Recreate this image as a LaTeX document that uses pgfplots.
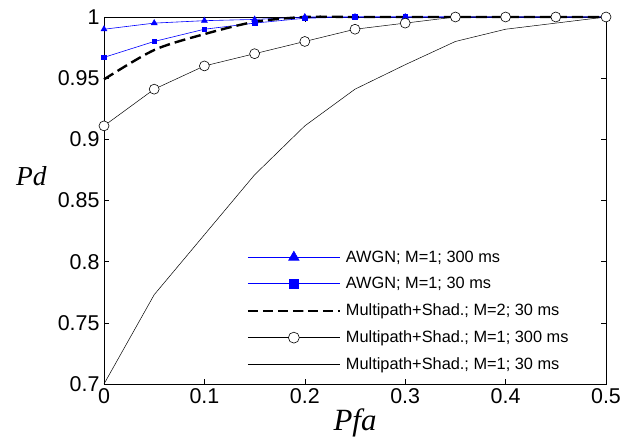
\documentclass[border=0pt]{standalone}
\usepackage{pgfplots}
\pgfplotsset{compat=1.18}
\usepackage{fontspec}
\setmainfont{Liberation Sans}
\newfontfamily\timesit{Liberation Serif}
\begin{document}
\begin{tikzpicture}
\begin{axis}[
  scale only axis, width=502bp, height=367bp,
  xmin=0, xmax=0.5, ymin=0.7, ymax=1,
  xtick={0,0.1,0.2,0.3,0.4,0.5},
  ytick={0.7,0.75,0.8,0.85,0.9,0.95,1},
  tick align=inside,
  major tick length=5bp,
  tick style={black, line width=0.6pt},
  axis line style={line width=0.8pt},
  /pgf/number format/assume math mode=true,
  ticklabel style={font=\fontsize{21.5}{24}\selectfont},
  xticklabel style={yshift=-1bp},
  yticklabel style={xshift=-1bp},
  xlabel={\timesit\itshape\fontsize{31}{34}\selectfont Pfa},
  ylabel={\timesit\itshape\fontsize{27.5}{30}\selectfont Pd},
  xlabel style={at={(rel axis cs:0.5,0)}, anchor=base, yshift=-46bp},
  ylabel style={at={(rel axis cs:0,0.542)}, rotate=-90, anchor=base east, xshift=-54bp},
  legend style={draw=none, fill=none, at={(rel axis cs:0.284,0.369)}, anchor=north west,
    font=\fontsize{16.4}{18}\selectfont, row sep=9.7bp, inner sep=0pt,
    /tikz/every odd column/.append style={column sep=3bp}},
  legend cell align=left,
  legend image code/.code={\draw[mark repeat=2,mark phase=2,#1] plot coordinates {(0bp,0bp) (46bp,0bp) (92bp,0bp)};},
  clip=false,
]
% AWGN M=1 300 ms
\addplot[blue, line width=0.6pt, mark=triangle*, mark size=3.4pt, mark options={solid,fill=blue},
  legend image code/.code={\draw[draw=blue, solid, line width=0.7pt] (0bp,0bp) -- (92bp,0bp);
    \path[draw=blue, fill=blue] plot[only marks, mark=triangle*, mark size=6pt] coordinates {(46bp,0bp)};}] coordinates {
(0,0.990) (0.05,0.995) (0.1,0.997) (0.15,0.998) (0.2,1) (0.25,1) (0.3,1) (0.35,1) (0.4,1) (0.45,1) (0.5,1)};
\addlegendentry{AWGN; M=1; 300 ms}
% AWGN M=1 30 ms
\addplot[blue, line width=0.6pt, mark=square*, mark size=2.3pt, mark options={solid,fill=blue},
  legend image code/.code={\draw[draw=blue, solid, line width=0.7pt] (0bp,0bp) -- (92bp,0bp);
    \path[draw=blue, fill=blue] plot[only marks, mark=square*, mark size=4.5pt] coordinates {(46bp,0bp)};}] coordinates {
(0,0.967) (0.05,0.980) (0.1,0.990) (0.15,0.995) (0.2,0.999) (0.25,1) (0.3,1) (0.35,1) (0.4,1) (0.45,1) (0.5,1)};
\addlegendentry{AWGN; M=1; 30 ms}
% Multipath M=2 30 ms
\addplot[black, line width=2.4pt, dash pattern=on 11bp off 5bp, smooth,
  legend image post style={line width=2.2pt, dash pattern=on 10bp off 5bp}] coordinates {
(0,0.949) (0.05,0.973) (0.1,0.986) (0.15,0.996) (0.2,1) (0.25,1) (0.3,1) (0.35,1) (0.4,1) (0.45,1) (0.5,1)};
\addlegendentry{Multipath+Shad.; M=2; 30 ms}
% Multipath M=1 300 ms
\addplot[black, line width=0.5pt, mark=*, mark size=5pt, mark options={solid,fill=white,draw=black,line width=0.6pt},
  legend image post style={mark size=5.5pt}] coordinates {
(0,0.911) (0.05,0.941) (0.1,0.960) (0.15,0.970) (0.2,0.980) (0.25,0.990) (0.3,0.995) (0.35,1) (0.4,1) (0.45,1) (0.5,1)};
\addlegendentry{Multipath+Shad.; M=1; 300 ms}
% Multipath M=1 30 ms
\addplot[black, line width=0.5pt] coordinates {
(0,0.700) (0.05,0.773) (0.1,0.822) (0.15,0.871) (0.2,0.911) (0.25,0.941) (0.3,0.961) (0.35,0.980) (0.4,0.990) (0.45,0.995) (0.5,1)};
\addlegendentry{Multipath+Shad.; M=1; 30 ms}
\end{axis}
\pgfresetboundingbox
\path (current axis.south west) ++(-104bp,-54bp) coordinate (bl);
\path (current axis.north east) ++(30bp,17bp) coordinate (tr);
\path[use as bounding box] (bl) rectangle (tr);
\end{tikzpicture}
\end{document}
